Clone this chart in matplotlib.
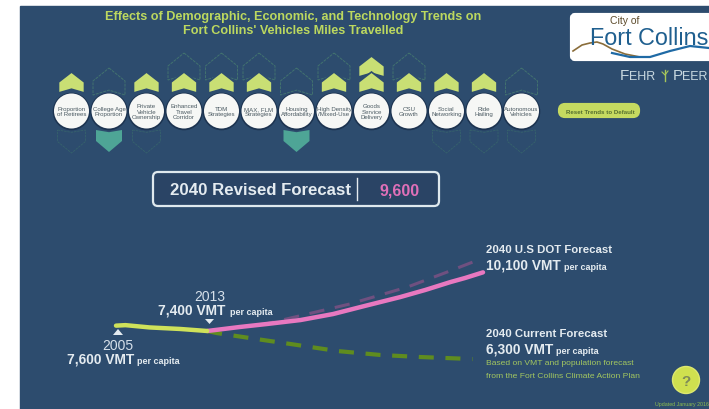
# VMT dashboard
import matplotlib
matplotlib.use("Agg")
import matplotlib.pyplot as plt
from matplotlib.patches import Rectangle, FancyBboxPatch, Circle, Polygon

plt.rcParams['font.family'] = ['Liberation Sans', 'DejaVu Sans']

# trend buttons
trends = ['Proportion\nof Retirees', 'College Age\nProportion', 'Private\nVehicle\nOwnership',
          'Enhanced\nTravel\nCorridor', 'TDM\nStrategies', 'MAX, FLM\nStrategies',
          'Housing\nAffordability', 'High Density\n/Mixed-Use', 'Goods\nService\nDelivery',
          'CSU\nGrowth', 'Social\nNetworking', 'Ride\nHailing', 'Autonomous\nVehicles']
up_filled = [1, 0, 1, 1, 1, 1, 0, 1, 2, 1, 1, 1, 0]
up_outline = [1, 2, 1, 2, 2, 2, 2, 2, 2, 2, 1, 1, 2]
down_filled = [0, 1, 0, 0, 0, 0, 1, 0, 0, 0, 0, 0, 0]
down_outline = [1, 1, 1, 0, 0, 0, 1, 0, 0, 0, 1, 1, 1]

# VMT lines
hist_years = [2005, 2005.9, 2008.2, 2011.1, 2013.7]
hist_vmt = [7610, 7630, 7540, 7480, 7400]
revised_years = [2013.7, 2016.8, 2019.4, 2022.6, 2025.7, 2028.7, 2032.1, 2034.5, 2036.9, 2038.3, 2040]
revised_vmt = [7400, 7557, 7675, 7830, 8065, 8380, 8730, 9010, 9320, 9480, 9700]
dot_years = [2013.7, 2019.4, 2027.3, 2032.8, 2036.6, 2039]
dot_vmt = [7400, 7690, 8460, 9125, 9715, 10100]
current_years = [2013.7, 2014.6, 2018.4, 2022.3, 2026.1, 2030.2, 2034, 2039]
current_vmt = [7400, 7320, 7085, 6850, 6615, 6460, 6380, 6300]

BG = '#2d4c6e'
LIME = '#c9df74'
TEAL = '#4ea596'
WHITE = '#e4ebf0'
PINK = '#e878c0'

fig = plt.figure(figsize=(7.09, 4.10), dpi=100, facecolor='white')
ax = fig.add_axes([0, 0, 1, 1])
ax.set_xlim(0, 709)
ax.set_ylim(410, 0)
ax.axis('off')

ax.add_patch(Rectangle((20, 7), 689, 403, color=BG, zorder=0))

ax.text(293, 17, 'Effects of Demographic, Economic, and Technology Trends on', color='#bcd85f',
        fontsize=9.1, fontweight='bold', ha='center', va='center')
ax.text(293, 31, "Fort Collins' Vehicles Miles Travelled", color='#bcd85f',
        fontsize=9.1, fontweight='bold', ha='center', va='center')


def arrow_up(x, top, h, w, **kw):
    pts = [(x, top), (x + w / 2, top + h * 0.48), (x + w / 2, top + h), (x, top + h * 0.82),
           (x - w / 2, top + h), (x - w / 2, top + h * 0.48)]
    ax.add_patch(Polygon(pts, closed=True, **kw))


def arrow_down(x, top, h, w, **kw):
    pts = [(x - w / 2, top), (x, top + h * 0.1), (x + w / 2, top), (x + w / 2, top + h * 0.5),
           (x, top + h), (x - w / 2, top + h * 0.5)]
    ax.add_patch(Polygon(pts, closed=True, **kw))


outline = dict(fill=False, ec='#42726f', lw=0.7, ls=(0, (3, 1)), zorder=1)
for i, name in enumerate(trends):
    x = 71.5 + i * 37.5
    if up_outline[i] == 2 and up_filled[i] < 2:
        top = 54 if up_filled[i] == 1 else 69
        arrow_up(x, top, 27, 32, **outline)
    if down_outline[i] and not down_filled[i]:
        arrow_down(x, 131, 23, 28, fill=False, ec='#36626c', lw=0.6, ls=(0, (3, 1)), zorder=1)
    for k in range(up_filled[i] - 1, -1, -1):
        arrow_up(x, 73 - k * 16, 21, 26, fc=LIME, ec=BG, lw=1.2, zorder=2)
    if down_filled[i]:
        arrow_down(x, 131, 22, 26, fc=TEAL, ec='none', zorder=2)
    ax.add_patch(Circle((x, 112.5), 18.8, fc='#1c3350', ec='none', zorder=3))
    ax.add_patch(Circle((x, 112), 17.5, fc='#f6f7f5', ec='none', zorder=4))
    ax.text(x, 112, name, color='#4b5a62', fontsize=4.4, ha='center', va='center',
            linespacing=1.05, zorder=5)

# reset button
ax.add_patch(FancyBboxPatch((560, 106), 78, 11, boxstyle='round,pad=0,rounding_size=5',
                            mutation_aspect=1, fc='#c5da60', ec='#c5da60', lw=3))
ax.text(600, 112, 'Reset Trends to Default', color='#55702e', fontsize=4.4, fontweight='bold',
        ha='center', va='center')

# logo
ax.add_patch(FancyBboxPatch((572, 16), 150, 44, boxstyle='round,pad=0,rounding_size=3',
                            fc='white', ec='white', lw=3, clip_on=True))
ax.text(625, 20.5, 'City of', color='#5c4a2a', fontsize=7.5, ha='center', va='center')
ax.text(590, 38.5, 'Fort Collins', color='#1f5f8f', fontsize=16.8, ha='left', va='center')
ax.plot([573, 582, 590, 597, 603, 612, 625, 640], [52, 46, 44, 43, 45, 50, 55, 58],
        color='#8a6d3a', lw=1.2)
ax.plot([612, 630, 650, 670, 690, 709], [54, 58, 58, 52, 47, 49], color='#1f6aa5', lw=1.6)
ax.text(620, 76, 'F', color='#c8d8e0', fontsize=11, ha='left', va='center')
ax.text(628.5, 76.5, 'EHR', color='#c8d8e0', fontsize=9, ha='left', va='center')
ax.plot([665, 665], [71, 82], color='#a6c65a', lw=1)
ax.plot([662, 665, 668], [73, 76, 72], color='#a6c65a', lw=0.8)
ax.text(673, 76, 'P', color='#c8d8e0', fontsize=11, ha='left', va='center')
ax.text(682, 76.5, 'EER', color='#c8d8e0', fontsize=9, ha='left', va='center')

# revised forecast box
ax.add_patch(FancyBboxPatch((153, 173), 286, 34, boxstyle='round,pad=0,rounding_size=5',
                            fc='#2a4465', ec='#dfe9ee', lw=1.6))
ax.text(170, 191, '2040 Revised Forecast', color=WHITE, fontsize=12.1, fontweight='bold',
        ha='left', va='center')
ax.plot([357, 357], [179, 201], color=WHITE, lw=1)
ax.text(379, 191, '9,600', color='#e070b8', fontsize=11.5, fontweight='bold', ha='left', va='center')

# the lines, on their own axes: 25.5 px per 1000 VMT, 10.49 px per year
px_top = 332 - (10500 - 7400) * 0.0255
px_bot = 332 + (7400 - 6000) * 0.0255
line_ax = fig.add_axes([116 / 709, 1 - px_bot / 410, (483 - 116) / 709, (px_bot - px_top) / 410])
line_ax.set_xlim(2005, 2040)
line_ax.set_ylim(6000, 10500)
line_ax.axis('off')
line_ax.patch.set_alpha(0)
line_ax.plot(dot_years, dot_vmt, color='#6f5080', lw=2.2, ls=(0, (5, 3.5)), clip_on=False)
line_ax.plot(current_years, current_vmt, color='#5f8c1f', lw=3, ls=(0, (3.6, 2.8)), clip_on=False)
line_ax.plot(revised_years, revised_vmt, color=PINK, lw=3.2, solid_capstyle='round', clip_on=False)
line_ax.plot(hist_years, hist_vmt, color='#cfe25a', lw=3.2, solid_capstyle='round', clip_on=False)

# year markers
ax.add_patch(Polygon([(118, 330), (123, 336), (113, 336)], closed=True, fc=WHITE, ec='none'))
ax.add_patch(Polygon([(205, 320), (214, 320), (209.5, 325)], closed=True, fc=WHITE, ec='none'))


def big(x, y, s, size=9.9, weight='bold', color=WHITE):
    ax.text(x, y, s, color=color, fontsize=size, fontweight=weight, ha='left', va='center')


ax.text(210, 297, '2013', color='#d6e0ea', fontsize=10, ha='center', va='center')
big(158, 311, '7,400 VMT')
big(230, 313, 'per capita', 6.5)
ax.text(118, 346, '2005', color='#d6e0ea', fontsize=10, ha='center', va='center')
big(67, 360, '7,600 VMT')
big(137, 362, 'per capita', 6.5)

big(486, 250, '2040 U.S DOT Forecast', 8.2)
big(486, 266, '10,100 VMT')
big(564, 268, 'per capita', 6.5)
big(486, 334, '2040 Current Forecast', 8.2)
big(486, 350, '6,300 VMT')
big(556, 352, 'per capita', 6.5)
big(486, 364, 'Based on VMT and population forecast', 6.1, 'normal', '#a3c760')
big(486, 377, 'from the Fort Collins Climate Action Plan', 6.1, 'normal', '#a3c760')

# help button
ax.add_patch(Circle((686, 381), 13.5, fc='#cfe04f', ec='#dde86f', lw=1))
ax.text(686, 382, '?', color='#7d8a58', fontsize=11, fontweight='bold', ha='center', va='center')
ax.text(655, 405, 'Updated January 2016', color='#8fbf4f', fontsize=3.8, ha='left', va='center',
        clip_on=True)

fig.savefig('out.png', dpi=100, facecolor='white')
